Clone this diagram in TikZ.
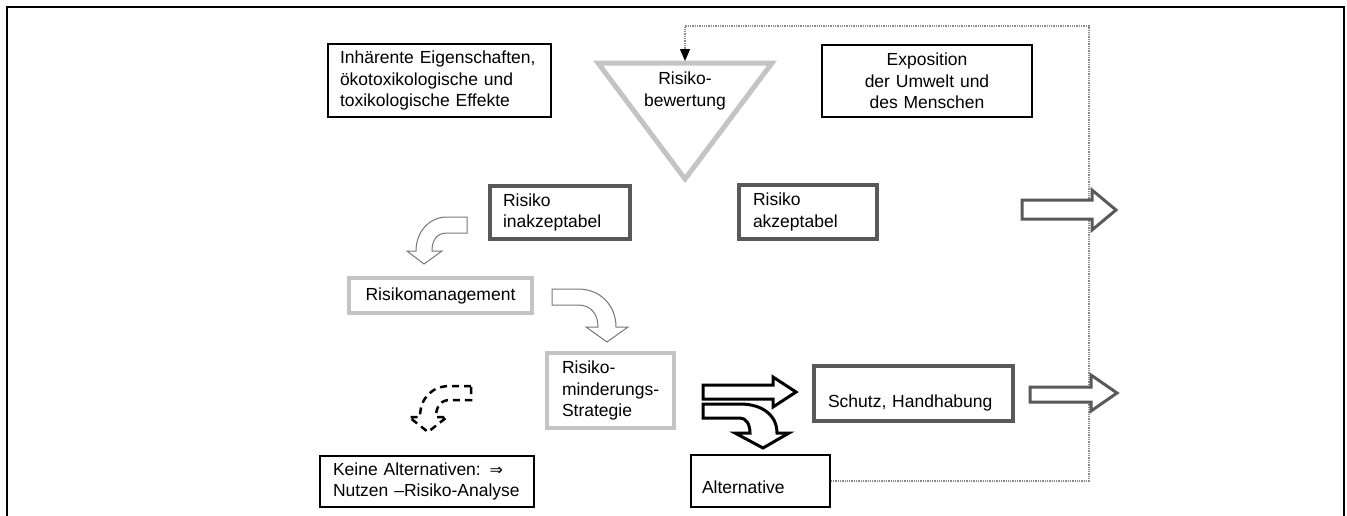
\documentclass[tikz,border=0pt]{standalone}
\usepackage{fontspec}
\setmainfont{Liberation Sans}
\newfontfamily\symfont{DejaVu Sans}
\usetikzlibrary{arrows.meta}
\definecolor{dg}{HTML}{595959}
\definecolor{lg}{HTML}{C4C4C4}
\definecolor{mg}{HTML}{777777}
\definecolor{dotc}{HTML}{8A8A8A}
\begin{document}
\begin{tikzpicture}[x=1pt,y=-1pt,
  font=\fontsize{17.5}{21.5}\selectfont,
  box/.style={draw, line width=1.5pt, rectangle, inner ysep=0pt},
  darkbox/.style={box, draw=dg, line width=4pt},
  lightbox/.style={box, draw=lg, line width=4pt},
  hollow/.style={draw=dg, line width=3pt, fill=white, line join=miter},
  thinarrow/.style={draw=mg, line width=1pt, fill=white},
  blackarrow/.style={draw=black, line width=3pt, fill=white, line join=miter},
  dasharrow/.style={draw=black, line width=2.5pt, dash pattern=on 7pt off 5pt},
  dotline/.style={draw=dotc, densely dotted, line width=1.3pt}
  ]
\useasboundingbox (0,0) rectangle (1347,515);
\draw[line width=1.5pt] (7,520) -- (7,7) -- (1344,7) -- (1344,520);

% boxes
\node[box, minimum width=223pt, minimum height=73pt, text width=199pt, inner xsep=12pt, align=left]
  (inh) at (439.5,80.5) {Inhärente Eigenschaften,\\ökotoxikologische und\\toxikologische Effekte};
\node[box, minimum width=210pt, minimum height=72pt, text width=200pt, inner xsep=5pt, align=center]
  (expo) at (927,81) {Exposition\\der Umwelt und\\des Menschen};
\node[darkbox, minimum width=140pt, minimum height=53pt, text width=114pt, inner xsep=13pt, align=left]
  (inak) at (560,212.5) {Risiko\\inakzeptabel};
\node[darkbox, minimum width=138pt, minimum height=54pt, text width=110pt, inner xsep=14pt, align=left]
  (akz) at (808,212) {Risiko\\akzeptabel};
\node[lightbox, minimum width=183pt, minimum height=35pt, text width=173pt, inner xsep=5pt, align=center]
  (mgmt) at (440.5,295.5) {Risikomanagement};
\node[lightbox, minimum width=127pt, minimum height=75pt, text width=108pt, inner xsep=9.5pt, align=left]
  (mind) at (610.5,390.5) {\hspace*{5.5pt}Risiko-\\\hspace*{5.5pt}minderungs-\\\hspace*{5.5pt}Strategie};
\node[darkbox, minimum width=199pt, minimum height=55pt, text width=171pt, inner xsep=14pt, align=left,
  text height=27pt, text depth=0pt]
  (schutz) at (913.5,393.5) {Schutz, Handhabung};
\node[box, minimum width=139pt, minimum height=52pt, text width=117pt, inner xsep=11pt, align=left,
  text height=25pt, text depth=0pt]
  (alt) at (760.5,481) {Alternative};
\node[box, minimum width=214pt, minimum height=51pt, text width=188pt, inner xsep=13pt, align=left]
  (keine) at (427,481.5) {Keine Alternativen: {\symfont\fontsize{16}{16}\selectfont ⇒}\\Nutzen –Risiko-Analyse};

% triangle
\coordinate (tl) at (598,63);
\coordinate (tr) at (772,63);
\coordinate (tb) at (685,179);
\coordinate (ttop) at (685,61);
\draw[lg, line width=5pt, line join=miter] (tl) -- (tr) -- (tb) -- cycle;
\node[align=center, inner sep=0pt] (rb) at (685,91) {Risiko-\\bewertung};

% dotted feedback line
\coordinate (dr) at (1089,26);
\draw[dotline, -{Triangle[length=12pt,width=10pt,fill=black,color=black]}]
  (alt.east) -| (dr) -| (ttop);

% hollow grey arrows
\draw[hollow] (1022,200) -- (1092,200) -- (1092,190) -- (1116,210) -- (1092,230) -- (1092,219) -- (1022,219) -- cycle;
\draw[hollow] (1030,387) -- (1091,387) -- (1091,375) -- (1117,393) -- (1091,411) -- (1091,402) -- (1030,402) -- cycle;

% thin curved arrows
\draw[thinarrow] (467,217) -- (447,217) .. controls (429,217) and (416,232) .. (416,251)
  -- (407,251) -- (424,264) -- (442,251) -- (432,251)
  .. controls (432,240) and (437,233) .. (447,233) -- (467,233) -- cycle;
\draw[thinarrow] (552,289) -- (578,289) .. controls (600,289) and (616,305) .. (616,327)
  -- (628,327) -- (607,342) -- (586,327) -- (598,327)
  .. controls (598,313) and (590,305) .. (578,305) -- (552,305) -- cycle;

% dashed curved arrow
\draw[dasharrow] (471,386) -- (450,386) .. controls (432,386) and (420,398) .. (420,417)
  -- (409,417) -- (428,432) -- (447,417) -- (436,417)
  .. controls (436,406) and (441,400) .. (450,400) -- (471,400) -- cycle;

% black arrows
\draw[blackarrow] (703,385) -- (773,385) -- (773,377) -- (796,392) -- (773,407) -- (773,399) -- (703,399) -- cycle;
\draw[blackarrow] (703,404) -- (740,404) .. controls (762,404) and (777,415) .. (777,433)
  -- (789,433) -- (763,448) -- (735,433) -- (750,433)
  .. controls (750,424) and (746,418) .. (740,418) -- (703,418) -- cycle;
\end{tikzpicture}
\end{document}
